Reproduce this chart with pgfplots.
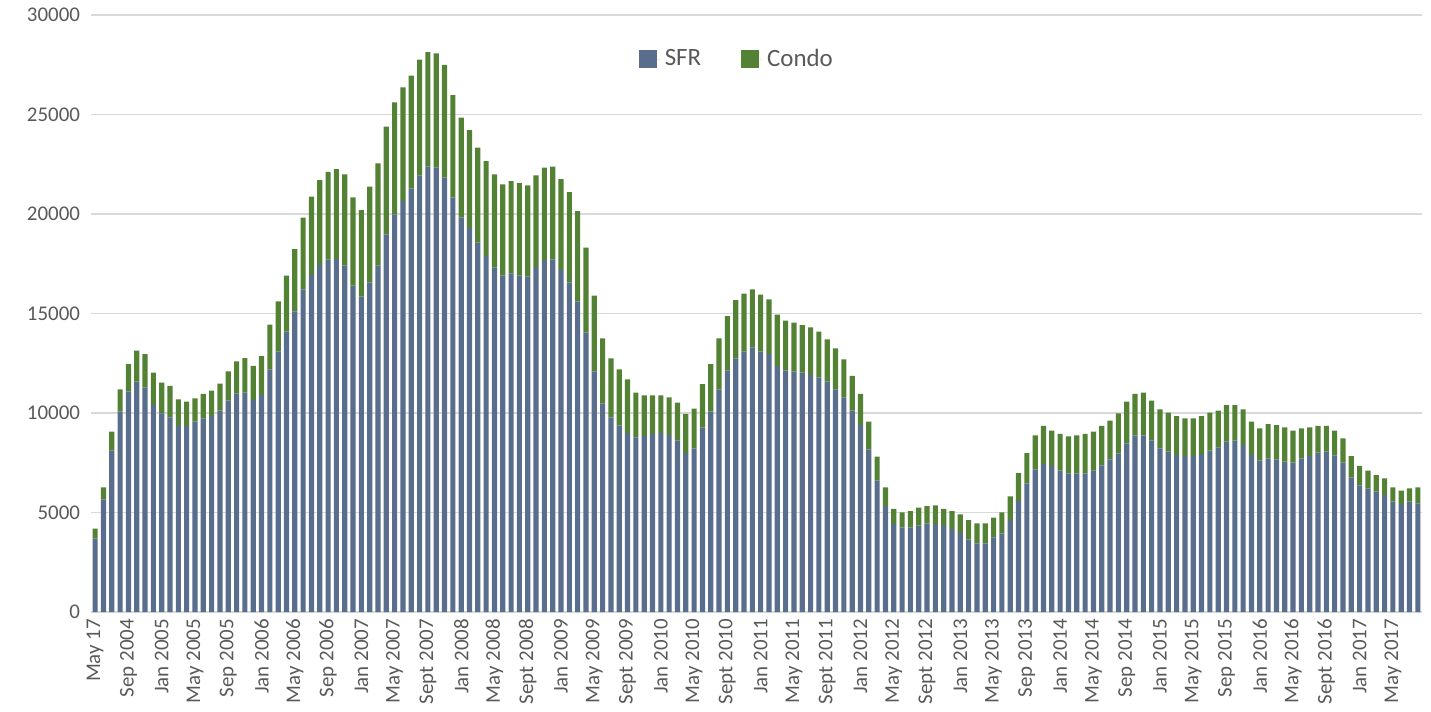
\documentclass[border=0pt]{standalone}
\usepackage{fontspec}
\setmainfont{Carlito}
\usepackage{pgfplots}
\usepackage{pgfplotstable}
\pgfplotsset{compat=1.18}
\definecolor{sfr}{HTML}{596D8C}
\definecolor{condo}{HTML}{548235}
\definecolor{txt}{HTML}{595959}
\definecolor{gridc}{HTML}{D9D9D9}

\pgfplotstableread{
x sfr condo
0 3684 502
1 5662 603
2 8107 955
3 10066 1124
4 11072 1390
5 11574 1558
6 11290 1674
7 10402 1624
8 9984 1541
9 9783 1574
10 9347 1341
11 9347 1221
12 9565 1173
13 9733 1222
14 9849 1281
15 10117 1357
16 10618 1476
17 10970 1627
18 11020 1743
19 10653 1709
20 10904 1960
21 12195 2242
22 13080 2532
23 14086 2814
24 15110 3130
25 16215 3600
26 16934 3936
27 17437 4271
28 17710 4410
29 17740 4521
30 17400 4594
31 16400 4430
32 15845 4355
33 16565 4808
34 17400 5145
35 18980 5410
36 19983 5629
37 20653 5713
38 21290 5660
39 21925 5829
40 22380 5760
41 22330 5744
42 21823 5667
43 20820 5160
44 19815 5025
45 19300 4920
46 18560 4770
47 17890 4773
48 17300 4694
49 16900 4590
50 17020 4637
51 16900 4657
52 16850 4590
53 17336 4608
54 17690 4638
55 17720 4658
56 17185 4573
57 16565 4540
58 15612 4538
59 14036 4270
60 12077 3818
61 10487 3266
62 9783 2965
63 9380 2815
64 8995 2698
65 8777 2245
66 8844 2044
67 8945 1943
68 8995 1893
69 8894 1894
70 8608 1909
71 8000 1950
72 8225 1991
73 9280 2177
74 10066 2396
75 11190 2563
76 12127 2747
77 12748 2930
78 13080 2916
79 13300 2915
80 13080 2866
81 12964 2748
82 12362 2578
83 12127 2511
84 12077 2461
85 12026 2395
86 11910 2396
87 11793 2293
88 11574 2129
89 11190 2060
90 10788 1909
91 10117 1743
92 9397 1558
93 8175 1390
94 6600 1205
95 5326 939
96 4422 754
97 4255 753
98 4255 820
99 4338 905
100 4456 870
101 4422 938
102 4322 854
103 4171 904
104 3970 938
105 3653 970
106 3452 1004
107 3452 1004
108 3754 986
109 3954 1054
110 4623 1187
111 5578 1407
112 6467 1523
113 7170 1709
114 7437 1910
115 7337 1775
116 7102 1843
117 6968 1859
118 6968 1911
119 6968 1977
120 7102 1960
121 7370 1977
122 7672 1943
123 7974 2010
124 8477 2091
125 8879 2076
126 8879 2143
127 8608 2010
128 8225 1961
129 8055 1960
130 7889 1960
131 7839 1894
132 7839 1894
133 7940 1909
134 8105 1910
135 8276 1841
136 8558 1844
137 8608 1794
138 8392 1794
139 7889 1676
140 7603 1628
141 7723 1724
142 7672 1725
143 7553 1727
144 7503 1609
145 7723 1508
146 7839 1441
147 8005 1342
148 8055 1292
149 7874 1238
150 7503 1225
151 6768 1071
152 6367 970
153 6216 886
154 6045 839
155 5879 839
156 5543 722
157 5427 668
158 5543 673
159 5462 803
}\data

\begin{document}
\begin{tikzpicture}
\begin{axis}[
  name=ax,
  scale only axis,
  width=665.5bp, height=298.5bp,
  xmin=-0.5, xmax=159.5, ymin=0, ymax=30000,
  enlargelimits=false,
  scaled y ticks=false,
  ybar stacked, bar width=0.62,
  axis line style={draw=none},
  major tick length=0pt,
  ymajorgrids, grid style={gridc, line width=0.8bp},
  ytick={0,5000,...,30000},
  xtick={0,4,...,156},
  xticklabels={May 17, Sep 2004, Jan 2005, May 2005, Sep 2005, Jan 2006, May 2006, Sep 2006, Jan 2007, May 2007, Sept 2007, Jan 2008, May 2008, Sept 2008, Jan 2009, May 2009, Sept 2009, Jan 2010, May 2010, Sept 2010, Jan 2011, May 2011, Sept 2011, Jan 2012, May 2012, Sept 2012, Jan 2013, May 2013, Sep 2013, Jan 2014, May 2014, Sep 2014, Jan 2015, May 2015, Sep 2015, Jan 2016, May 2016, Sept 2016, Jan 2017, May 2017},
  xticklabel style={rotate=90, anchor=east, font=\fontsize{10.5}{12}\selectfont, text=txt},
  yticklabel style={font=\fontsize{10.5}{12}\selectfont, text=txt, xshift=-2bp,
    /pgf/number format/1000 sep={}, /pgf/number format/assume math mode=true},
  legend style={at={(0.486,0.926)}, anchor=center, draw=none, fill=none,
    font=\fontsize{12.5}{15}\selectfont, text=txt,
    /tikz/every even column/.append style={column sep=18bp}},
  legend columns=2,
  legend image code/.code={\fill[#1] (0bp,-4.5bp) rectangle (9bp,4.5bp); \path (0bp,0bp) -- (11bp,0bp);},
]
\addplot[fill=sfr, draw=none] table[x=x, y=sfr]{\data};
\addplot[fill=condo, draw=none] table[x=x, y=condo]{\data};
\legend{SFR, Condo}
\end{axis}
\pgfresetboundingbox
\path ([shift={(-45.5bp,-50bp)}]ax.south west) rectangle ([shift={(4.5bp,7.5bp)}]ax.north east);
\end{tikzpicture}
\end{document}
